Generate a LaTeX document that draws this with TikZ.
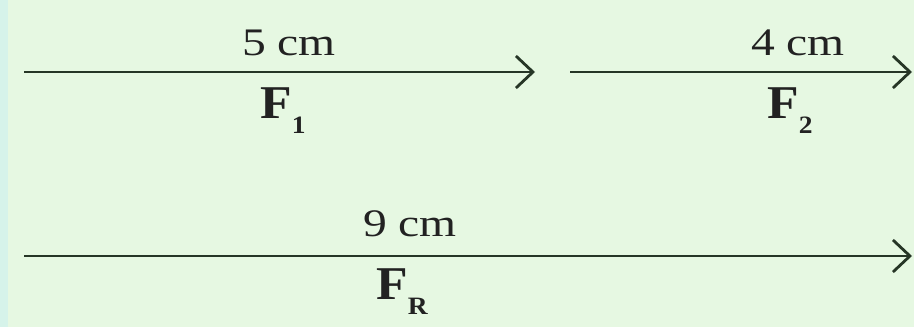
\documentclass[tikz,border=0pt]{standalone}
\usepackage{fontspec}
\setmainfont{Liberation Serif}
\usetikzlibrary{arrows.meta}
\definecolor{bgc}{HTML}{E6F8E2}
\definecolor{stripc}{HTML}{D6F3EA}
\definecolor{linec}{HTML}{263626}
\definecolor{txtc}{HTML}{222222}
\newcommand\wdx[2]{\scalebox{#1}[1]{#2}}
\tikzset{
  vec/.style={draw=linec, line width=2.8pt,
    -{Straight Barb[length=17pt,width=32pt,line width=2.8pt]}},
  len/.style={anchor=base, inner sep=0pt, text=txtc, font=\fontsize{39}{39}\selectfont},
  fname/.style={anchor=base, inner sep=0pt, text=txtc, font=\fontsize{47}{47}\selectfont\bfseries}
}
\newcommand\fsub[1]{\raisebox{-15pt}{\fontsize{25}{25}\selectfont\bfseries #1}}
\begin{document}
\begin{tikzpicture}[x=1pt,y=-1pt]
\useasboundingbox (0,0) rectangle (914,327);
\fill[bgc] (0,0) rectangle (914,327);
\fill[stripc] (0,0) rectangle (8,327);
% arrows
\coordinate (a1s) at (24,72);
\coordinate (a1e) at (535,72);
\coordinate (a2s) at (570,72);
\coordinate (a2e) at (912,72);
\coordinate (a3s) at (24,256);
\coordinate (a3e) at (912,256);
\draw[vec] (a1s) -- (a1e);
\draw[vec] (a2s) -- (a2e);
\draw[vec] (a3s) -- (a3e);
% labels
\node[len] (l1) at (289,55) {\wdx{1.22}{5 cm}};
\node[len] (l2) at (798,55) {\wdx{1.22}{4 cm}};
\node[len] (l3) at (410,236) {\wdx{1.22}{9 cm}};
\node[fname] (f1) at (283,118) {\wdx{1.1}{F\fsub{1}}};
\node[fname] (f2) at (790,118) {\wdx{1.1}{F\fsub{2}}};
\node[fname] (f3) at (402,299) {\wdx{1.1}{F\fsub{R}}};
\end{tikzpicture}
\end{document}
